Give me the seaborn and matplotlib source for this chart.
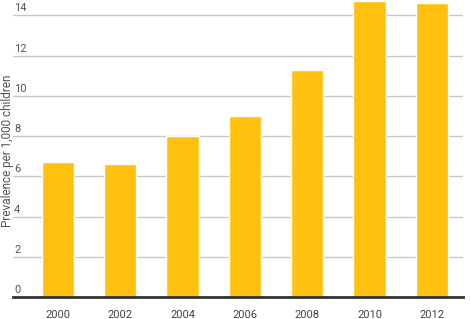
import matplotlib
matplotlib.use("Agg")
import matplotlib.pyplot as plt
import seaborn as sns
import pandas as pd
from matplotlib.transforms import blended_transform_factory, offset_copy

years = ["2000", "2002", "2004", "2006", "2008", "2010", "2012"]
prevalence = [6.7, 6.6, 8.0, 9.0, 11.3, 14.7, 14.6]
yticks = [0, 2, 4, 6, 8, 10, 12, 14]
ylabel = "Prevalence per 1,000 children"

sns.set_theme(style="white")
plt.rcParams["font.family"] = ["Roboto", "DejaVu Sans"]

df = pd.DataFrame({"year": years, "prev": prevalence})

fig = plt.figure(figsize=(4.71, 3.19), dpi=100)
ax = fig.add_axes([13 / 471, 1 - 297 / 319, 450 / 471, 297 / 319])

sns.barplot(data=df, x="year", y="prev", color="#FFC10E", saturation=1,
            width=0.52, ax=ax, zorder=3)

ax.set_ylim(0, 14.77)
ax.set_xlim(-0.72, 6.5)
ax.set_yticks(yticks)
ax.yaxis.grid(True, color="#c8c8c8", linewidth=1, zorder=0)
ax.set_axisbelow(True)
ax.tick_params(axis="y", left=False, labelleft=False)
ax.tick_params(axis="x", bottom=False, labelsize=8, labelcolor="#444444", pad=3)
for s in ["top", "right", "left"]:
    ax.spines[s].set_visible(False)
ax.spines["bottom"].set_color("#333333")
ax.spines["bottom"].set_linewidth(2)
ax.spines["bottom"].set_zorder(5)
ax.set_xlabel("")
ax.set_ylabel("")

trans = blended_transform_factory(ax.transAxes, ax.transData)
trans = offset_copy(trans, fig=fig, x=1, y=2, units="dots")
for v in yticks:
    ax.text(0, v, str(v), transform=trans, ha="left", va="bottom",
            fontsize=8, color="#555555", zorder=6)

fig.text(0.5 / 471, 1 - 151 / 319, ylabel, rotation=90, ha="left", va="center",
         fontsize=8.5, color="#555555")

fig.savefig("out.png", dpi=100)
